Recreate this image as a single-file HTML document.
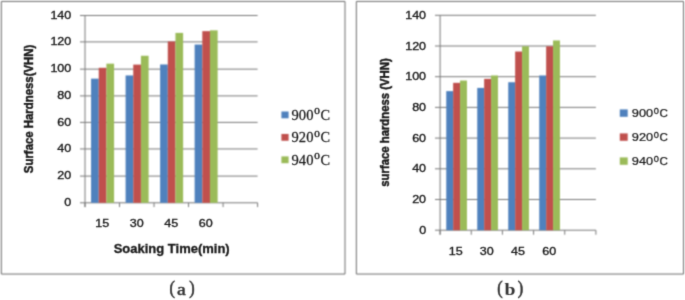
<!DOCTYPE html>
<html><head><meta charset="utf-8"><style>
html,body{margin:0;padding:0;background:#fff;}
body{width:685px;height:300px;overflow:hidden;}
svg{display:block;}
</style></head><body>
<svg width="685" height="300" viewBox="0 0 685 300">
<defs>
<filter id="bl" color-interpolation-filters="sRGB" x="0" y="0" width="685" height="300" filterUnits="userSpaceOnUse"><feConvolveMatrix order="3" kernelMatrix="0.0509 0.1238 0.0509 0.1238 0.3012 0.1238 0.0509 0.1238 0.0509" divisor="1" edgeMode="duplicate"/></filter>
<filter id="bt" color-interpolation-filters="sRGB" x="0" y="0" width="685" height="300" filterUnits="userSpaceOnUse"><feConvolveMatrix order="3" kernelMatrix="0.0192 0.1001 0.0192 0.1001 0.5228 0.1001 0.0192 0.1001 0.0192" divisor="1" edgeMode="none"/></filter>
</defs>
<g filter="url(#bl)">
<rect x="0" y="0" width="685" height="300" fill="#fff"/>
<line x1="80" y1="15.50" x2="257.60" y2="15.50" stroke="#7a7a7a" stroke-width="1"/>
<line x1="80" y1="41.90" x2="257.60" y2="41.90" stroke="#7a7a7a" stroke-width="1"/>
<line x1="80" y1="69.15" x2="257.60" y2="69.15" stroke="#7a7a7a" stroke-width="1"/>
<line x1="80" y1="95.90" x2="257.60" y2="95.90" stroke="#7a7a7a" stroke-width="1"/>
<line x1="80" y1="122.40" x2="257.60" y2="122.40" stroke="#7a7a7a" stroke-width="1"/>
<line x1="80" y1="148.95" x2="257.60" y2="148.95" stroke="#7a7a7a" stroke-width="1"/>
<line x1="80" y1="176.10" x2="257.60" y2="176.10" stroke="#7a7a7a" stroke-width="1"/>
<line x1="80" y1="202.80" x2="257.60" y2="202.80" stroke="#7a7a7a" stroke-width="1"/>
<line x1="85.0" y1="15.50" x2="85.0" y2="207.10" stroke="#7a7a7a" stroke-width="1"/>
<line x1="85.00" y1="202.80" x2="85.00" y2="207.10" stroke="#7a7a7a" stroke-width="1"/>
<line x1="119.52" y1="202.80" x2="119.52" y2="207.10" stroke="#7a7a7a" stroke-width="1"/>
<line x1="154.04" y1="202.80" x2="154.04" y2="207.10" stroke="#7a7a7a" stroke-width="1"/>
<line x1="188.56" y1="202.80" x2="188.56" y2="207.10" stroke="#7a7a7a" stroke-width="1"/>
<line x1="223.08" y1="202.80" x2="223.08" y2="207.10" stroke="#7a7a7a" stroke-width="1"/>
<line x1="257.60" y1="202.80" x2="257.60" y2="207.10" stroke="#7a7a7a" stroke-width="1"/>
<rect x="91.07" y="78.65" width="7.67" height="124.15" fill="#4F81BD"/>
<rect x="98.74" y="67.81" width="7.67" height="134.99" fill="#C0504D"/>
<rect x="106.41" y="63.66" width="7.67" height="139.14" fill="#9BBB59"/>
<rect x="125.59" y="75.44" width="7.67" height="127.36" fill="#4F81BD"/>
<rect x="133.26" y="64.60" width="7.67" height="138.20" fill="#C0504D"/>
<rect x="140.93" y="55.77" width="7.67" height="147.03" fill="#9BBB59"/>
<rect x="160.11" y="64.47" width="7.67" height="138.33" fill="#4F81BD"/>
<rect x="167.78" y="41.45" width="7.67" height="161.35" fill="#C0504D"/>
<rect x="175.45" y="32.89" width="7.67" height="169.91" fill="#9BBB59"/>
<rect x="194.63" y="44.53" width="7.67" height="158.27" fill="#4F81BD"/>
<rect x="202.30" y="31.15" width="7.67" height="171.65" fill="#C0504D"/>
<rect x="209.97" y="30.35" width="7.67" height="172.45" fill="#9BBB59"/>
<line x1="435" y1="15.30" x2="595.90" y2="15.30" stroke="#7a7a7a" stroke-width="1"/>
<line x1="435" y1="46.00" x2="595.90" y2="46.00" stroke="#7a7a7a" stroke-width="1"/>
<line x1="435" y1="76.70" x2="595.90" y2="76.70" stroke="#7a7a7a" stroke-width="1"/>
<line x1="435" y1="107.40" x2="595.90" y2="107.40" stroke="#7a7a7a" stroke-width="1"/>
<line x1="435" y1="138.10" x2="595.90" y2="138.10" stroke="#7a7a7a" stroke-width="1"/>
<line x1="435" y1="168.80" x2="595.90" y2="168.80" stroke="#7a7a7a" stroke-width="1"/>
<line x1="435" y1="199.50" x2="595.90" y2="199.50" stroke="#7a7a7a" stroke-width="1"/>
<line x1="435" y1="230.20" x2="595.90" y2="230.20" stroke="#7a7a7a" stroke-width="1"/>
<line x1="440.1" y1="15.30" x2="440.1" y2="234.70" stroke="#7a7a7a" stroke-width="1"/>
<line x1="440.10" y1="230.20" x2="440.10" y2="234.70" stroke="#7a7a7a" stroke-width="1"/>
<line x1="471.26" y1="230.20" x2="471.26" y2="234.70" stroke="#7a7a7a" stroke-width="1"/>
<line x1="502.42" y1="230.20" x2="502.42" y2="234.70" stroke="#7a7a7a" stroke-width="1"/>
<line x1="533.58" y1="230.20" x2="533.58" y2="234.70" stroke="#7a7a7a" stroke-width="1"/>
<line x1="564.74" y1="230.20" x2="564.74" y2="234.70" stroke="#7a7a7a" stroke-width="1"/>
<line x1="595.90" y1="230.20" x2="595.90" y2="234.70" stroke="#7a7a7a" stroke-width="1"/>
<rect x="446.25" y="91.13" width="6.90" height="139.07" fill="#4F81BD"/>
<rect x="453.15" y="82.84" width="6.90" height="147.36" fill="#C0504D"/>
<rect x="460.05" y="80.54" width="6.90" height="149.66" fill="#9BBB59"/>
<rect x="477.25" y="87.91" width="6.90" height="142.29" fill="#4F81BD"/>
<rect x="484.15" y="78.85" width="6.90" height="151.35" fill="#C0504D"/>
<rect x="491.05" y="75.47" width="6.90" height="154.73" fill="#9BBB59"/>
<rect x="508.25" y="82.23" width="6.90" height="147.97" fill="#4F81BD"/>
<rect x="515.15" y="51.53" width="6.90" height="178.67" fill="#C0504D"/>
<rect x="522.05" y="46.31" width="6.90" height="183.89" fill="#9BBB59"/>
<rect x="539.25" y="75.47" width="6.90" height="154.73" fill="#4F81BD"/>
<rect x="546.15" y="46.31" width="6.90" height="183.89" fill="#C0504D"/>
<rect x="553.05" y="40.47" width="6.90" height="189.73" fill="#9BBB59"/>
<path d="M1.35 1.45 H345 V274.05 H1.35 Z" fill="none" stroke="#6e6e6e" stroke-width="1"/>
<path d="M356.35 1.45 H683.5 V274.05 H356.35 Z" fill="none" stroke="#6e6e6e" stroke-width="1"/>
<rect x="281.4" y="111.5" width="7.2" height="6.8" fill="#4F81BD"/>
<rect x="619.8" y="109.4" width="7.9" height="7.4" fill="#4F81BD"/>
<rect x="281.4" y="133.95" width="7.2" height="6.8" fill="#C0504D"/>
<rect x="619.8" y="133.4" width="7.9" height="7.4" fill="#C0504D"/>
<rect x="281.4" y="156.4" width="7.2" height="6.8" fill="#9BBB59"/>
<rect x="619.8" y="157.4" width="7.9" height="7.4" fill="#9BBB59"/>
</g>
<g filter="url(#bt)">
<text transform="translate(71.30,18.60) scale(1.120,1)" text-anchor="end" font-family="Liberation Sans" font-size="11.2" font-weight="normal" fill="#1a1a1a" stroke="#1a1a1a" stroke-width="0.35" >140</text>
<text transform="translate(71.30,45.36) scale(1.120,1)" text-anchor="end" font-family="Liberation Sans" font-size="11.2" font-weight="normal" fill="#1a1a1a" stroke="#1a1a1a" stroke-width="0.35" >120</text>
<text transform="translate(71.30,72.11) scale(1.120,1)" text-anchor="end" font-family="Liberation Sans" font-size="11.2" font-weight="normal" fill="#1a1a1a" stroke="#1a1a1a" stroke-width="0.35" >100</text>
<text transform="translate(71.30,98.87) scale(1.120,1)" text-anchor="end" font-family="Liberation Sans" font-size="11.2" font-weight="normal" fill="#1a1a1a" stroke="#1a1a1a" stroke-width="0.35" >80</text>
<text transform="translate(71.30,125.63) scale(1.120,1)" text-anchor="end" font-family="Liberation Sans" font-size="11.2" font-weight="normal" fill="#1a1a1a" stroke="#1a1a1a" stroke-width="0.35" >60</text>
<text transform="translate(71.30,152.39) scale(1.120,1)" text-anchor="end" font-family="Liberation Sans" font-size="11.2" font-weight="normal" fill="#1a1a1a" stroke="#1a1a1a" stroke-width="0.35" >40</text>
<text transform="translate(71.30,179.14) scale(1.120,1)" text-anchor="end" font-family="Liberation Sans" font-size="11.2" font-weight="normal" fill="#1a1a1a" stroke="#1a1a1a" stroke-width="0.35" >20</text>
<text transform="translate(71.30,205.90) scale(1.120,1)" text-anchor="end" font-family="Liberation Sans" font-size="11.2" font-weight="normal" fill="#1a1a1a" stroke="#1a1a1a" stroke-width="0.35" >0</text>
<text transform="translate(102.26,226.80) scale(1.120,1)" text-anchor="middle" font-family="Liberation Sans" font-size="11.2" font-weight="normal" fill="#1a1a1a" stroke="#1a1a1a" stroke-width="0.35" >15</text>
<text transform="translate(136.78,226.80) scale(1.120,1)" text-anchor="middle" font-family="Liberation Sans" font-size="11.2" font-weight="normal" fill="#1a1a1a" stroke="#1a1a1a" stroke-width="0.35" >30</text>
<text transform="translate(171.30,226.80) scale(1.120,1)" text-anchor="middle" font-family="Liberation Sans" font-size="11.2" font-weight="normal" fill="#1a1a1a" stroke="#1a1a1a" stroke-width="0.35" >45</text>
<text transform="translate(205.82,226.80) scale(1.120,1)" text-anchor="middle" font-family="Liberation Sans" font-size="11.2" font-weight="normal" fill="#1a1a1a" stroke="#1a1a1a" stroke-width="0.35" >60</text>
<text transform="translate(426.10,18.90) scale(1.120,1)" text-anchor="end" font-family="Liberation Sans" font-size="11.2" font-weight="normal" fill="#1a1a1a" stroke="#1a1a1a" stroke-width="0.35" >140</text>
<text transform="translate(426.10,49.60) scale(1.120,1)" text-anchor="end" font-family="Liberation Sans" font-size="11.2" font-weight="normal" fill="#1a1a1a" stroke="#1a1a1a" stroke-width="0.35" >120</text>
<text transform="translate(426.10,80.30) scale(1.120,1)" text-anchor="end" font-family="Liberation Sans" font-size="11.2" font-weight="normal" fill="#1a1a1a" stroke="#1a1a1a" stroke-width="0.35" >100</text>
<text transform="translate(426.10,111.00) scale(1.120,1)" text-anchor="end" font-family="Liberation Sans" font-size="11.2" font-weight="normal" fill="#1a1a1a" stroke="#1a1a1a" stroke-width="0.35" >80</text>
<text transform="translate(426.10,141.70) scale(1.120,1)" text-anchor="end" font-family="Liberation Sans" font-size="11.2" font-weight="normal" fill="#1a1a1a" stroke="#1a1a1a" stroke-width="0.35" >60</text>
<text transform="translate(426.10,172.40) scale(1.120,1)" text-anchor="end" font-family="Liberation Sans" font-size="11.2" font-weight="normal" fill="#1a1a1a" stroke="#1a1a1a" stroke-width="0.35" >40</text>
<text transform="translate(426.10,203.10) scale(1.120,1)" text-anchor="end" font-family="Liberation Sans" font-size="11.2" font-weight="normal" fill="#1a1a1a" stroke="#1a1a1a" stroke-width="0.35" >20</text>
<text transform="translate(426.10,233.80) scale(1.120,1)" text-anchor="end" font-family="Liberation Sans" font-size="11.2" font-weight="normal" fill="#1a1a1a" stroke="#1a1a1a" stroke-width="0.35" >0</text>
<text transform="translate(455.68,255.20) scale(1.120,1)" text-anchor="middle" font-family="Liberation Sans" font-size="11.2" font-weight="normal" fill="#1a1a1a" stroke="#1a1a1a" stroke-width="0.35" >15</text>
<text transform="translate(486.84,255.20) scale(1.120,1)" text-anchor="middle" font-family="Liberation Sans" font-size="11.2" font-weight="normal" fill="#1a1a1a" stroke="#1a1a1a" stroke-width="0.35" >30</text>
<text transform="translate(518.00,255.20) scale(1.120,1)" text-anchor="middle" font-family="Liberation Sans" font-size="11.2" font-weight="normal" fill="#1a1a1a" stroke="#1a1a1a" stroke-width="0.35" >45</text>
<text transform="translate(549.16,255.20) scale(1.120,1)" text-anchor="middle" font-family="Liberation Sans" font-size="11.2" font-weight="normal" fill="#1a1a1a" stroke="#1a1a1a" stroke-width="0.35" >60</text>
<text transform="translate(171.70,253.00)" text-anchor="middle" font-family="Liberation Sans" font-size="12.2" font-weight="bold" fill="#1a1a1a" stroke="#1a1a1a" stroke-width="0.3" textLength="116" lengthAdjust="spacingAndGlyphs">Soaking Time(min)</text>
<text transform="translate(33.00,108.90) rotate(-90)" text-anchor="middle" font-family="Liberation Sans" font-size="12.2" font-weight="bold" fill="#1a1a1a" stroke="#1a1a1a" stroke-width="0.45" textLength="128.5" lengthAdjust="spacingAndGlyphs">Surface Hardness(VHN)</text>
<text transform="translate(389.00,122.50) rotate(-90)" text-anchor="middle" font-family="Liberation Sans" font-size="12" font-weight="bold" fill="#1a1a1a" stroke="#1a1a1a" stroke-width="0.45" textLength="128.5" lengthAdjust="spacingAndGlyphs">surface hardness (VHN)</text>
<text transform="translate(291.60,119.60) scale(1.070,1)" text-anchor="start" font-family="Liberation Serif" font-size="13.6" font-weight="normal" fill="#1a1a1a" stroke="#1a1a1a" stroke-width="0.25" >900</text>
<text transform="translate(314.30,114.40) scale(1.300,1)" text-anchor="start" font-family="Liberation Serif" font-size="8.6" font-weight="normal" fill="#1a1a1a" stroke="#1a1a1a" stroke-width="0.35" >0</text>
<text transform="translate(320.50,119.60) scale(1.050,1)" text-anchor="start" font-family="Liberation Serif" font-size="13.6" font-weight="normal" fill="#1a1a1a" stroke="#1a1a1a" stroke-width="0.25" >C</text>
<text transform="translate(631.80,117.00) scale(1.100,1)" text-anchor="start" font-family="Liberation Sans" font-size="11.6" font-weight="normal" fill="#1a1a1a" stroke="#1a1a1a" stroke-width="0.25" >900</text>
<text transform="translate(653.80,113.80) scale(1.050,1)" text-anchor="start" font-family="Liberation Sans" font-size="8.8" font-weight="normal" fill="#1a1a1a" stroke="#1a1a1a" stroke-width="0.3" >0</text>
<text transform="translate(659.60,117.00)" text-anchor="start" font-family="Liberation Sans" font-size="11.6" font-weight="normal" fill="#1a1a1a" stroke="#1a1a1a" stroke-width="0.25" >C</text>
<text transform="translate(291.60,142.05) scale(1.070,1)" text-anchor="start" font-family="Liberation Serif" font-size="13.6" font-weight="normal" fill="#1a1a1a" stroke="#1a1a1a" stroke-width="0.25" >920</text>
<text transform="translate(314.30,136.85) scale(1.300,1)" text-anchor="start" font-family="Liberation Serif" font-size="8.6" font-weight="normal" fill="#1a1a1a" stroke="#1a1a1a" stroke-width="0.35" >0</text>
<text transform="translate(320.50,142.05) scale(1.050,1)" text-anchor="start" font-family="Liberation Serif" font-size="13.6" font-weight="normal" fill="#1a1a1a" stroke="#1a1a1a" stroke-width="0.25" >C</text>
<text transform="translate(631.80,141.00) scale(1.100,1)" text-anchor="start" font-family="Liberation Sans" font-size="11.6" font-weight="normal" fill="#1a1a1a" stroke="#1a1a1a" stroke-width="0.25" >920</text>
<text transform="translate(653.80,137.80) scale(1.050,1)" text-anchor="start" font-family="Liberation Sans" font-size="8.8" font-weight="normal" fill="#1a1a1a" stroke="#1a1a1a" stroke-width="0.3" >0</text>
<text transform="translate(659.60,141.00)" text-anchor="start" font-family="Liberation Sans" font-size="11.6" font-weight="normal" fill="#1a1a1a" stroke="#1a1a1a" stroke-width="0.25" >C</text>
<text transform="translate(291.60,164.50) scale(1.070,1)" text-anchor="start" font-family="Liberation Serif" font-size="13.6" font-weight="normal" fill="#1a1a1a" stroke="#1a1a1a" stroke-width="0.25" >940</text>
<text transform="translate(314.30,159.30) scale(1.300,1)" text-anchor="start" font-family="Liberation Serif" font-size="8.6" font-weight="normal" fill="#1a1a1a" stroke="#1a1a1a" stroke-width="0.35" >0</text>
<text transform="translate(320.50,164.50) scale(1.050,1)" text-anchor="start" font-family="Liberation Serif" font-size="13.6" font-weight="normal" fill="#1a1a1a" stroke="#1a1a1a" stroke-width="0.25" >C</text>
<text transform="translate(631.80,165.00) scale(1.100,1)" text-anchor="start" font-family="Liberation Sans" font-size="11.6" font-weight="normal" fill="#1a1a1a" stroke="#1a1a1a" stroke-width="0.25" >940</text>
<text transform="translate(653.80,161.80) scale(1.050,1)" text-anchor="start" font-family="Liberation Sans" font-size="8.8" font-weight="normal" fill="#1a1a1a" stroke="#1a1a1a" stroke-width="0.3" >0</text>
<text transform="translate(659.60,165.00)" text-anchor="start" font-family="Liberation Sans" font-size="11.6" font-weight="normal" fill="#1a1a1a" stroke="#1a1a1a" stroke-width="0.25" >C</text>
<text transform="translate(172.20,294.40) scale(0.900,1)" text-anchor="middle" font-family="Liberation Serif" font-size="18" font-weight="normal" fill="#333" stroke="#333" stroke-width="0.6" >(</text>
<text transform="translate(181.50,294.50) scale(1.200,1)" text-anchor="middle" font-family="Liberation Serif" font-size="16.5" font-weight="normal" fill="#333" stroke="#333" stroke-width="0.45" >a</text>
<text transform="translate(191.90,294.40) scale(0.900,1)" text-anchor="middle" font-family="Liberation Serif" font-size="18" font-weight="normal" fill="#333" stroke="#333" stroke-width="0.6" >)</text>
<text transform="translate(500.00,294.40) scale(0.900,1)" text-anchor="middle" font-family="Liberation Serif" font-size="18" font-weight="normal" fill="#333" stroke="#333" stroke-width="0.6" >(</text>
<text transform="translate(510.00,294.50) scale(1.200,1)" text-anchor="middle" font-family="Liberation Serif" font-size="16.5" font-weight="bold" fill="#333" >b</text>
<text transform="translate(520.40,294.40) scale(0.900,1)" text-anchor="middle" font-family="Liberation Serif" font-size="18" font-weight="normal" fill="#333" stroke="#333" stroke-width="0.6" >)</text>
</g>
</svg>
</body></html>
